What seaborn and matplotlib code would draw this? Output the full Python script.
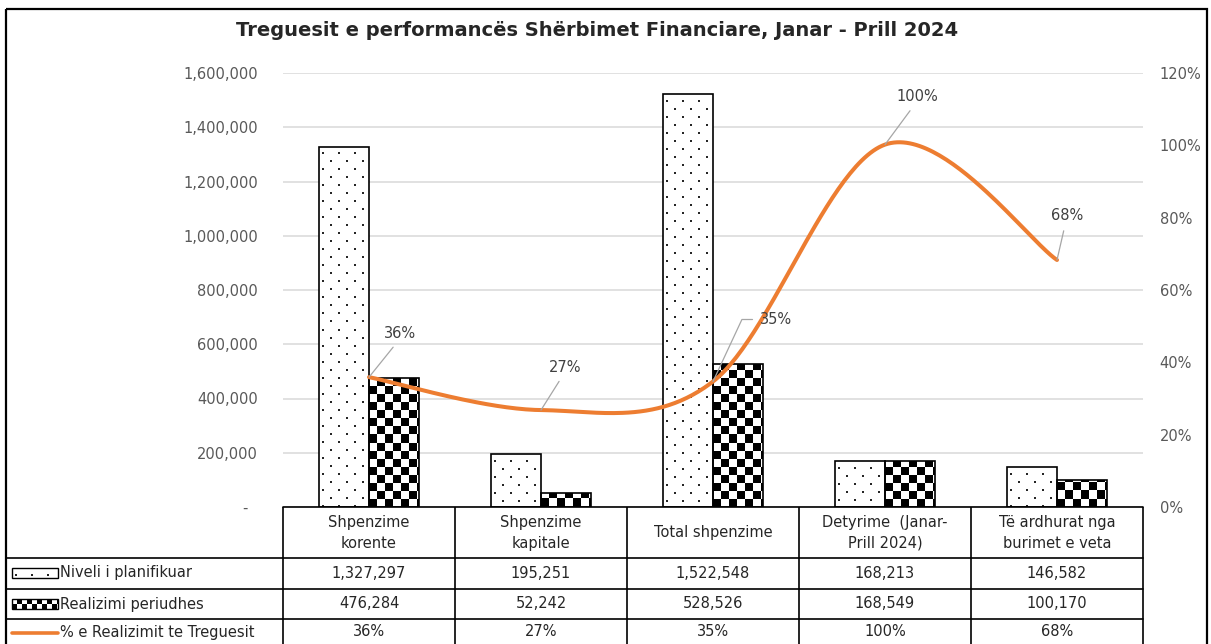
import numpy as np
import pandas as pd
import matplotlib
matplotlib.use("Agg")
import matplotlib.pyplot as plt
import seaborn as sns
from matplotlib.ticker import FuncFormatter, FixedLocator
from matplotlib.patches import Rectangle

# ---------------- data ----------------
categories = ["Shpenzime\nkorente", "Shpenzime\nkapitale", "Total shpenzime",
              "Detyrime  (Janar-\nPrill 2024)", "Të ardhurat nga\nburimet e veta"]
planned = [1327297, 195251, 1522548, 168213, 146582]
realized = [476284, 52242, 528526, 168549, 100170]
pct = [0.359, 0.268, 0.347, 1.002, 0.683]
pct_labels = ["36%", "27%", "35%", "100%", "68%"]
series_names = ["Niveli i planifikuar", "Realizimi periudhes", "% e Realizimit te Treguesit"]
left_ticks = [0, 200000, 400000, 600000, 800000, 1000000, 1200000, 1400000, 1600000]
right_ticks = [0.0, 0.2, 0.4, 0.6, 0.8, 1.0, 1.2]
title = "Treguesit e performancës Shërbimet Financiare, Janar - Prill 2024"

# ---------------- style ----------------
sns.set_style("white")
plt.rcParams["font.family"] = ["DejaVu Sans"]
W, H = 1211, 644
fig = plt.figure(figsize=(W / 100, H / 100), dpi=100)
fig.patch.set_facecolor("white")

ORANGE = "#ED7D31"
TXT = "#404040"
TICK = "#595959"

PL, PR, PT, PB = 283, 1143, 73, 507
ax = fig.add_axes([PL / W, 1 - PB / H, (PR - PL) / W, (PB - PT) / H])

df = pd.DataFrame({
    "cat": categories * 2,
    "val": planned + realized,
    "series": [series_names[0]] * len(categories) + [series_names[1]] * len(categories),
})
sns.barplot(data=df, x="cat", y="val", hue="series", ax=ax, width=0.58, gap=0,
            palette=["white", "white"], edgecolor="black", linewidth=1.2,
            saturation=1, errorbar=None, legend=False)
ax.set_xlim(-0.5, len(categories) - 0.5)
ax.set_ylim(left_ticks[0], left_ticks[-1])
ax.set_xticks([])
ax.set_xlabel("")
ax.set_ylabel("")
ax.yaxis.set_major_locator(FixedLocator(left_ticks))
ax.yaxis.set_major_formatter(FuncFormatter(lambda v, p: "-  " if v == 0 else f"{int(v):,}"))
ax.tick_params(axis="y", length=0, pad=18, labelsize=10.5, labelcolor=TICK)
ax.grid(axis="y", color="#D9D9D9", lw=1.1)
ax.set_axisbelow(True)
for s in ["left", "right", "top", "bottom"]:
    ax.spines[s].set_visible(False)


def dot_pattern(h, w):
    img = np.ones((h, w, 3))
    r = np.arange(h)[:, None]
    c = np.arange(w)[None, :]
    band = (r // 8) % 2
    mask = ((r % 8) >= 6) & (((c - 3 - 8 * band) % 16) < 2)
    img[np.broadcast_to(mask, (h, w))] = 0.15
    return img


def checker_pattern(h, w, cell=8):
    img = np.ones((h, w, 3))
    r = (h - 1 - np.arange(h))[:, None]
    c = np.arange(w)[None, :]
    mask = ((r // cell) + (c // cell)) % 2 == 0
    img[np.broadcast_to(mask, (h, w))] = 0.0
    return img


for p in ax.patches:
    x0, y0 = p.get_x(), p.get_y()
    bw, bh = p.get_width(), p.get_height()
    if bh <= 0:
        continue
    (px0, py0) = ax.transData.transform((x0, y0))
    (px1, py1) = ax.transData.transform((x0 + bw, y0 + bh))
    pw, ph = max(int(round(px1 - px0)), 1), max(int(round(py1 - py0)), 1)
    cx = x0 + bw / 2
    is_planned = cx < np.round(cx)
    img = dot_pattern(ph, pw) if is_planned else checker_pattern(ph, pw)
    im = ax.imshow(img, extent=(x0, x0 + bw, y0, y0 + bh), aspect="auto",
                   interpolation="nearest", zorder=1.5)
    im.set_clip_path(p)
    p.set_facecolor("none")
    p.set_zorder(2)
ax.set_xlim(-0.5, len(categories) - 0.5)
ax.set_ylim(left_ticks[0], left_ticks[-1])

# ---------------- secondary axis: smoothed line ----------------
ax2 = ax.twinx()
ax2.set_ylim(right_ticks[0], right_ticks[-1])
ax2.yaxis.set_major_locator(FixedLocator(right_ticks))
ax2.yaxis.set_major_formatter(FuncFormatter(lambda v, p: f"{v * 100:.0f}%"))
ax2.tick_params(axis="y", length=0, pad=12, labelsize=10.5, labelcolor=TICK)
for s in ["left", "right", "top", "bottom"]:
    ax2.spines[s].set_visible(False)


def excel_smooth(xv, yv, n=60):
    P = np.column_stack([xv, yv]).astype(float)
    pts = []
    for i in range(len(P) - 1):
        p0 = P[i - 1] if i > 0 else P[i]
        p1, p2 = P[i], P[i + 1]
        p3 = P[i + 2] if i + 2 < len(P) else P[i + 1]
        c1 = p1 + (p2 - p0) / 6
        c2 = p2 - (p3 - p1) / 6
        t = np.linspace(0, 1, n)[:, None]
        seg = (1 - t) ** 3 * p1 + 3 * (1 - t) ** 2 * t * c1 + 3 * (1 - t) * t ** 2 * c2 + t ** 3 * p2
        pts.append(seg if i == 0 else seg[1:])
    pts = np.vstack(pts)
    return pts[:, 0], pts[:, 1]


xs, ys = excel_smooth(np.arange(len(pct)), pct)
sns.lineplot(x=xs, y=ys, ax=ax2, sort=False, estimator=None, color=ORANGE, lw=2.9,
             solid_capstyle="round")
ax2.set_xlim(-0.5, len(categories) - 0.5)

label_offsets = [(31, 44), (24, 43), (63, 62), (32, 48), (10, 44)]
for i, (lab, v) in enumerate(zip(pct_labels, pct)):
    dx, dy = label_offsets[i]
    if i == 2:
        ap = dict(arrowstyle="-", color="#A6A6A6", lw=0.9, shrinkA=3, shrinkB=0,
                  relpos=(0, 0.5), connectionstyle="angle,angleA=180,angleB=65,rad=0")
    else:
        ap = dict(arrowstyle="-", color="#A6A6A6", lw=0.9, shrinkA=3, shrinkB=0,
                  relpos=(0.45, 0))
    ax2.annotate(lab, xy=(i, v), xytext=(dx, dy), textcoords="offset pixels",
                 ha="center", va="center", fontsize=10.5, color=TXT, arrowprops=ap,
                 zorder=5)

# ---------------- title ----------------
fig.text(597 / W, 1 - 30 / H, title, ha="center", va="center", fontsize=14,
         fontweight="bold", color="#262626")

# ---------------- data table ----------------
tab = fig.add_axes([0, 0, 1, 1], zorder=10)
tab.set_xlim(0, W)
tab.set_ylim(H, 0)
tab.axis("off")
tab.patch.set_visible(False)

col_edges = [PL + (PR - PL) * k / len(categories) for k in range(len(categories) + 1)]
col_centers = [(a + b) / 2 for a, b in zip(col_edges[:-1], col_edges[1:])]
row_lines = [558, 589, 619]
lc = "black"
for xe in col_edges:
    tab.plot([xe, xe], [PB, H + 5], color=lc, lw=1.2, solid_capstyle="butt")
tab.plot([PL, PR], [PB, PB], color=lc, lw=1.2)
for yl in row_lines:
    tab.plot([6, PR], [yl, yl], color=lc, lw=1.2)
# outer frame
tab.add_patch(Rectangle((6, 9), 1201, 700, fill=False, ec="black", lw=1.6))

for xc, cat in zip(col_centers, categories):
    tab.text(xc, 533, cat, ha="center", va="center", fontsize=10.5, color="#262626",
             linespacing=1.45)

row_y = [573, 604, 632]
for xc, v in zip(col_centers, planned):
    tab.text(xc, row_y[0], f"{v:,}", ha="center", va="center", fontsize=10.5, color="#262626")
for xc, v in zip(col_centers, realized):
    tab.text(xc, row_y[1], f"{v:,}", ha="center", va="center", fontsize=10.5, color="#262626")
for xc, lab in zip(col_centers, pct_labels):
    tab.text(xc, row_y[2], lab, ha="center", va="center", fontsize=10.5, color="#262626")

# legend keys
kx0, kx1 = 12, 58
tab.imshow(dot_pattern(10, kx1 - kx0), extent=(kx0, kx1, row_y[0] + 5, row_y[0] - 5),
           aspect="auto", interpolation="nearest", zorder=2)
tab.add_patch(Rectangle((kx0, row_y[0] - 5), kx1 - kx0, 10, fill=False, ec="black", lw=1.0, zorder=3))
tab.imshow(checker_pattern(10, kx1 - kx0, cell=5), extent=(kx0, kx1, row_y[1] + 5, row_y[1] - 5),
           aspect="auto", interpolation="nearest", zorder=2)
tab.add_patch(Rectangle((kx0, row_y[1] - 5), kx1 - kx0, 10, fill=False, ec="black", lw=1.0, zorder=3))
tab.plot([kx0, kx1], [row_y[2] + 1, row_y[2] + 1], color=ORANGE, lw=2.6, solid_capstyle="round")
tab.set_xlim(0, W)
tab.set_ylim(H, 0)
for yy, name in zip(row_y, series_names):
    tab.text(60, yy, name, ha="left", va="center", fontsize=10.5, color="#262626")

fig.savefig("out.png", dpi=100)
